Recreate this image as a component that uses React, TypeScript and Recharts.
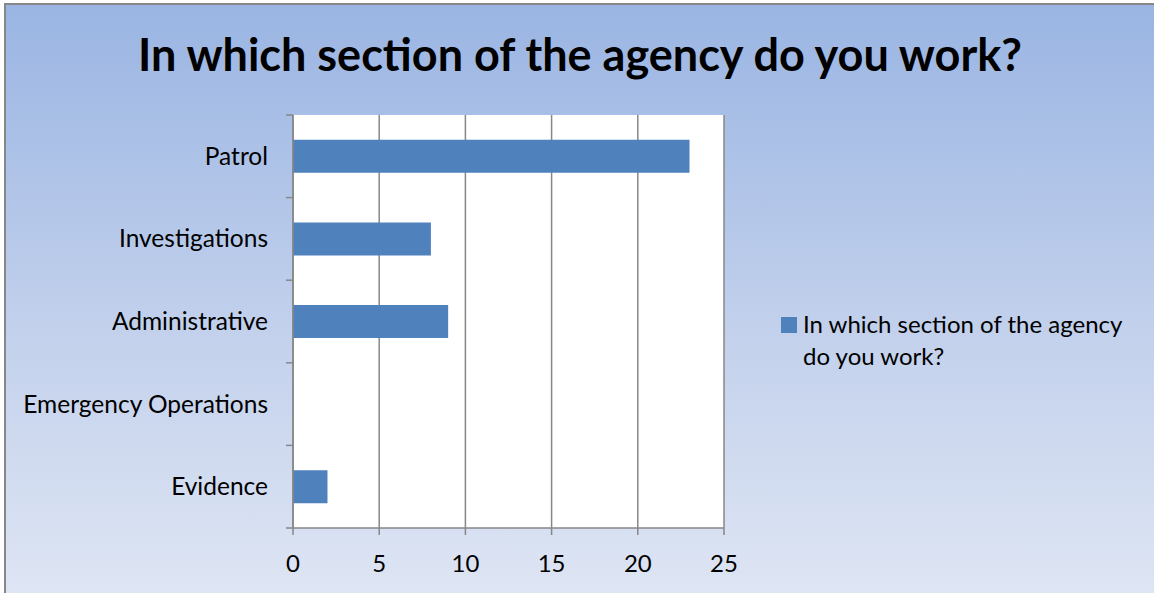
import { BarChart, Bar, XAxis, YAxis, CartesianGrid } from "recharts";

const sections = [
  "Patrol",
  "Investigations",
  "Administrative",
  "Emergency Operations",
  "Evidence",
];
const counts = [23, 8, 9, 0, 2];
const xTicks = [0, 5, 10, 15, 20, 25];
const seriesName = "In which section of the agency do you work?";

const data = sections.map((section, i) => ({ section, count: counts[i] }));

const font = "Lato, 'Open Sans', sans-serif";
const axisGray = "#878787";

const CHART_W = 1154;
const CHART_H = 593;
const MARGIN = { top: 115, right: 430, bottom: 35, left: 0 };
const X_AXIS_H = 30;
const plotH = CHART_H - MARGIN.top - MARGIN.bottom - X_AXIS_H;

// category label plus the little tick marks at band boundaries
function CategoryTick(props: any) {
  const { x, y, payload, index } = props;
  const band = plotH / sections.length;
  const axisX = x + 8;
  return (
    <g>
      <line x1={axisX - 7} x2={axisX} y1={y - band / 2} y2={y - band / 2} stroke={axisGray} strokeWidth={1.5} />
      {index === sections.length - 1 && (
        <line x1={axisX - 7} x2={axisX} y1={y + band / 2} y2={y + band / 2} stroke={axisGray} strokeWidth={1.5} />
      )}
      <text x={x - 17} y={y} dy="0.35em" textAnchor="end" fill="#000" fontSize={24.5} fontFamily={font}>
        {payload.value}
      </text>
    </g>
  );
}

export default function App() {
  return (
    <div
      style={{
        position: "absolute",
        left: 0,
        top: 0,
        width: CHART_W,
        height: CHART_H,
        overflow: "hidden",
      }}
    >
      {/* frame + gradient */}
      <div
        style={{
          position: "absolute",
          left: 4,
          top: 3,
          width: 1160,
          height: 600,
          borderLeft: "2px solid #878787",
          borderTop: "2px solid #878787",
          background: "linear-gradient(to bottom, #9ab5e3 0%, #c3d1ec 55%, #dfe6f4 100%)",
        }}
      />

      {/* title */}
      <div
        style={{
          position: "absolute",
          left: 0,
          top: 27,
          width: 1160,
          textAlign: "center",
          fontFamily: font,
          fontWeight: 700,
          fontSize: 45,
          lineHeight: "54px",
          color: "#000",
        }}
      >
        {seriesName}
      </div>

      <div style={{ position: "absolute", left: 0, top: 0 }}>
        <BarChart
          width={CHART_W}
          height={CHART_H}
          data={data}
          layout="vertical"
          barCategoryGap="30%"
          margin={MARGIN}
        >
          <CartesianGrid
            horizontal={false}
            stroke={axisGray}
            strokeWidth={1.5}
            fill="#ffffff"
            fillOpacity={1}
          />
          <XAxis
            type="number"
            domain={[0, 25]}
            ticks={xTicks}
            interval={0}
            height={X_AXIS_H}
            axisLine={{ stroke: axisGray, strokeWidth: 1.5 }}
            tickLine={{ stroke: axisGray, strokeWidth: 1.5 }}
            tickSize={7}
            tick={{ fill: "#000", fontSize: 24, fontFamily: font, dy: 18 }}
          />
          <YAxis
            type="category"
            dataKey="section"
            width={293}
            axisLine={{ stroke: axisGray, strokeWidth: 1.5 }}
            tickLine={false}
            tick={<CategoryTick />}
            interval={0}
          />
          <Bar
            dataKey="count"
            name={seriesName}
            fill="#4f81bd"
            isAnimationActive={false}
          />
        </BarChart>
      </div>

      {/* legend */}
      <div
        style={{
          position: "absolute",
          left: 781,
          top: 308,
          display: "flex",
          fontFamily: font,
          fontSize: 24,
          lineHeight: "32px",
          color: "#000",
        }}
      >
        <div
          style={{
            width: 16,
            height: 16,
            background: "#4f81bd",
            marginTop: 9,
            marginRight: 6,
            flexShrink: 0,
          }}
        />
        <div style={{ width: 345 }}>{seriesName}</div>
      </div>
    </div>
  );
}
